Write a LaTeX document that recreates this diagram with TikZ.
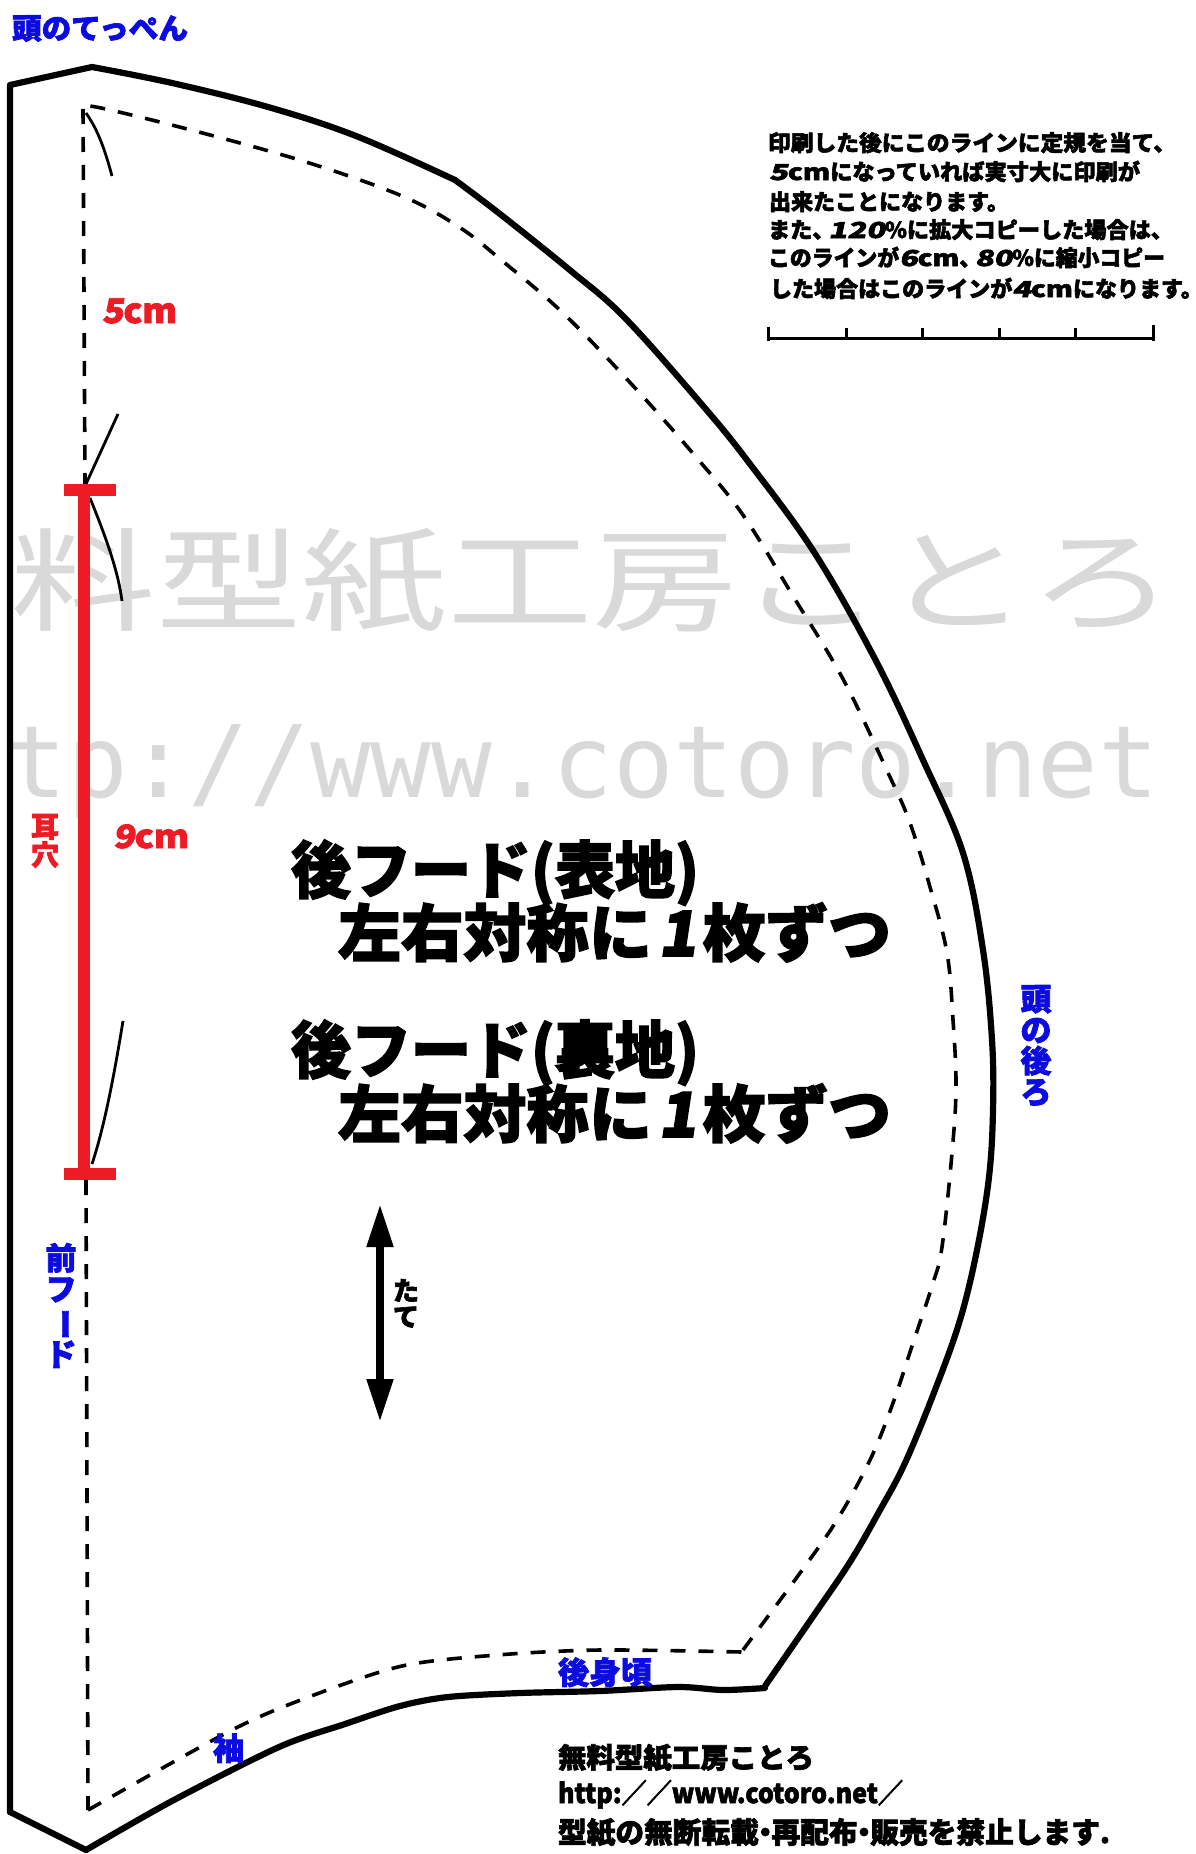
\documentclass[tikz,border=0pt]{standalone}
\usepackage{fontspec}
\usepackage{graphicx}
\usetikzlibrary{arrows.meta}
\newfontfamily\jpreg{Noto Sans CJK JP}
\newfontfamily\jpbold[BoldFeatures={FakeBold=2.4}]{Noto Sans CJK JP}
\newfontfamily\jpslant[BoldFeatures={FakeBold=2.4,FakeSlant=0.15}]{Noto Sans CJK JP}
\newfontfamily\wmono{DejaVu Sans Mono}
\newcommand{\fitt}[2]{\resizebox{#1pt}{\height}{#2}}
\newcommand{\fsz}[1]{\fontsize{#1}{#1}\selectfont}
\newcommand{\slnt}[1]{{\jpslant\bfseries #1}}
\newcommand{\widedig}[1]{\scalebox{1.4}[1]{\slnt{#1}}}
\newcommand{\widecm}{\scalebox{1.25}[1]{cm}}
\newcommand{\nk}{\kern-.28em}
\definecolor{pred}{HTML}{ED1C24}
\definecolor{pblue}{HTML}{0C0CE0}
\definecolor{wgray}{HTML}{D9D9D9}
\tikzset{
  outline/.style={line width=6.2pt,line join=round,line cap=round},
  seam/.style={line width=3.6pt,dash pattern=on 15pt off 13pt},
  thinmark/.style={line width=2.8pt},
  redbar/.style={pred,line width=12pt},
  ruler/.style={line width=3pt},
  lab/.style={inner sep=0pt,outer sep=0pt,anchor=base west},
  vlab/.style={inner sep=0pt,outer sep=0pt,anchor=north,align=center},
}
\begin{document}
\begin{tikzpicture}[x=1pt,y=-1pt]
\useasboundingbox (0,0) rectangle (1195,1854);
\fill[white] (0,0) rectangle (1195,1854);
% watermark
\node[lab,text=wgray] (wm1) at (11,622) {\jpreg\fsz{112}\fitt{1164}{料型紙工房ことろ}};
\node[lab,text=wgray] (wm2) at (7,797) {\wmono\fsz{100}\fitt{1152}{tp://www.cotoro.net}};
% outline
\draw[outline] (10,1812) -- (10,85) -- (92,67)
  plot[smooth,tension=0.6] coordinates {(92,67) (172,83) (268,107) (356,136) (455,180)};
\draw[outline] plot[smooth,tension=0.6] coordinates {(455,180) (500,214) (571,271) (625,318) (704,407) (750,464) (814,552) (875,659) (923,760) (963,853) (983,950) (992,1040) (993,1110) (989,1177) (977,1250) (960,1320) (935,1390) (905,1463) (880,1510) (850,1562) (812,1618) (765,1686)};
\draw[outline] plot[smooth,tension=0.5] coordinates {(765,1688) (723,1690) (678,1687) (600,1691) (520,1693) (448,1697) (400,1706) (345,1724) (279,1747) (172,1801) (86,1850)};
\draw[outline] (86,1850) -- (10,1812);
% seam line
\draw[seam] plot[smooth,tension=0.5] coordinates {(88,1810) (230,1731) (306,1698) (402,1666) (497,1655) (600,1650) (742,1652)};
\draw[seam] plot[smooth,tension=0.6] coordinates {(743,1650) (763,1623) (800,1573) (837,1520) (870,1460) (893,1403) (913,1343) (933,1283) (942,1247) (952,1153) (956,1087) (953,1020) (947,953) (930,887) (910,823) (890,777) (843,679) (793,596) (743,515) (696,457) (636,389) (564,314) (500,259) (459,227) (402,196) (306,162) (191,130) (96,107) (83,109)};
\draw[seam] (83,109) -- (85,484);
\draw[seam] (86,1180) -- (88,1810);
% ear marks
\draw[thinmark] (86,113) .. controls (98,130) and (105,150) .. (112,176);
\draw[thinmark] (118,414) -- (86,484);
\draw[thinmark] (90,498) .. controls (105,535) and (118,570) .. (122,601);
\draw[thinmark] (123,1021) .. controls (115,1070) and (105,1125) .. (92,1164);
% red bar
\draw[redbar] (84,490) -- (84,1174);
\draw[redbar] (64,489.5) -- (116,489.5);
\draw[redbar] (64,1174) -- (116,1174);
% ruler
\draw[ruler] (768,327) -- (768,341) (768,338) -- (1153,338) (1153,325) -- (1153,341);
\foreach \tx in {846,922,999,1075}{\draw[ruler] (\tx,328) -- (\tx,338);}
% grain arrow
\coordinate (gtop) at (380,1204);
\coordinate (gbot) at (380,1422);
\draw[line width=8pt,{Triangle[length=43pt,width=25pt]}-{Triangle[length=43pt,width=25pt]}] (gtop) -- (gbot);
\node[vlab,font=\jpbold\bfseries\fsz{26}] (tate) at (406,1279) {た\\て};
% small note
\node[lab] (n1) at (768,151) {\jpbold\bfseries\fsz{22}\fitt{408}{印刷した後にこのラインに定規を当て、}};
\node[lab] (n2) at (769,180) {\jpbold\bfseries\fsz{22}\fitt{371}{\widedig{5}\widecm{}になっていれば実寸大に印刷が}};
\node[lab] (n3) at (769,210) {\jpbold\bfseries\fsz{22}\fitt{240}{出来たことになります。}};
\node[lab] (n4) at (768,238) {\jpbold\bfseries\fsz{22}\fitt{405}{また、\nk{}\widedig{120}\%に拡大コピーした場合は、}};
\node[lab] (n5) at (768,266) {\jpbold\bfseries\fsz{22}\fitt{397}{このラインが\widedig{6}\widecm{}、\nk{}\widedig{80}\%に縮小コピー}};
\node[lab] (n6) at (770,297) {\jpbold\bfseries\fsz{22}\fitt{423}{した場合はこのラインが\widedig{4}\widecm{}になります。\kern-.45em}};
% title text
\node[lab] (t1) at (291,893) {\jpbold\bfseries\fsz{62}\fitt{408}{後フード(表地)}};
\node[lab] (t2) at (338,956) {\jpbold\bfseries\fsz{62}\fitt{553}{左右対称に\kern.1em\slnt{1}\kern.1em{}枚ずつ}};
\node[lab] (t3) at (291,1073) {\jpbold\bfseries\fsz{62}\fitt{408}{後フード(裏地)}};
\node[lab] (t4) at (338,1137) {\jpbold\bfseries\fsz{62}\fitt{553}{左右対称に\kern.1em\slnt{1}\kern.1em{}枚ずつ}};
% red labels
\node[lab,text=pred] (l5) at (102,323) {\jpbold\bfseries\fsz{34}\fitt{75}{\slnt{5}cm}};
\node[lab,text=pred] (l9) at (113,848) {\jpbold\bfseries\fsz{32}\fitt{76}{\slnt{9}cm}};
\node[vlab,text=pred,font=\jpbold\bfseries\fsz{28}] (lear) at (45,814) {耳\\穴};
% blue labels
\node[lab,text=pblue] (b1) at (12,39) {\jpbold\bfseries\fsz{29}\fitt{176}{頭のてっぺん}};
\node[vlab,text=pblue,font=\jpbold\bfseries\fsz{31}] (b2) at (61,1243) {前\\フ\\\rotatebox[origin=c]{-90}{ー}\\ド};
\node[vlab,text=pblue,font=\jpbold\bfseries\fsz{31}] (b3) at (1036,985) {頭\\の\\後\\ろ};
\node[lab,text=pblue] (b4) at (213,1760) {\jpbold\bfseries\fsz{31}袖};
\node[lab,text=pblue] (b5) at (558,1684) {\jpbold\bfseries\fsz{31}\fitt{94}{後身頃}};
% footer
\node[lab] (f1) at (558,1768) {\jpbold\bfseries\fsz{28}\fitt{256}{無料型紙工房ことろ}};
\node[lab] (f2) at (558,1803) {\jpbold\bfseries\fsz{27}\fitt{345}{http:／／www.cotoro.net／}};
\node[lab] (f3) at (558,1843) {\jpbold\bfseries\fsz{29}\fitt{552}{型紙の無断転載\nk{}・\nk{}再配布\nk{}・\nk{}販売を禁止します.}};
\end{tikzpicture}
\end{document}
